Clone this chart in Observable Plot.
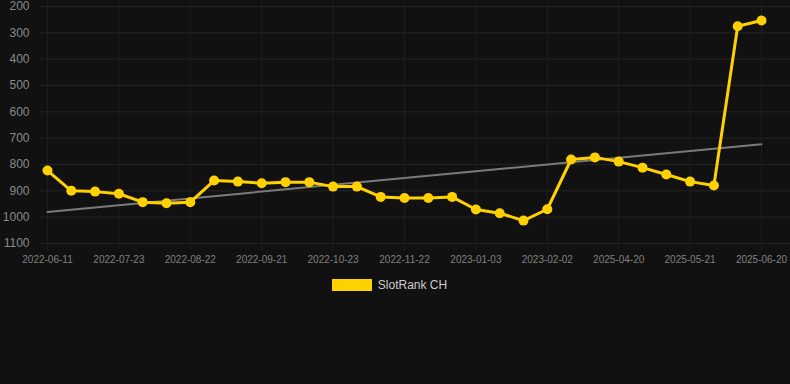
<!DOCTYPE html>
<html>
<head>
<meta charset="utf-8">
<script src="https://cdn.jsdelivr.net/npm/d3@7"></script>
<script src="https://cdn.jsdelivr.net/npm/@observablehq/plot@0.6"></script>
<style>
  html, body { margin: 0; padding: 0; background: #111111; }
  body { width: 790px; height: 384px; overflow: hidden; font-family: "Liberation Sans", Arial, sans-serif; }
  #legend { display: flex; justify-content: center; align-items: center; margin-top: 8px; padding-right: 11px; color: #cccccc; font-size: 12px; }
  #legend .sw { width: 40px; height: 12px; background: #FFD100; margin-right: 6px; }
</style>
</head>
<body>
<div id="chart"></div>
<div id="legend"><span class="sw"></span><span>SlotRank CH</span></div>
<script>
const dates = [
  "2022-06-11","2022-06-25","2022-07-09","2022-07-23","2022-08-02","2022-08-12","2022-08-22",
  "2022-09-01","2022-09-11","2022-09-21","2022-10-01","2022-10-12","2022-10-23","2022-11-02",
  "2022-11-12","2022-11-22","2022-12-06","2022-12-20","2023-01-03","2023-01-13","2023-01-23",
  "2023-02-02","2025-03-31","2025-04-10","2025-04-20","2025-04-30","2025-05-11","2025-05-21",
  "2025-05-31","2025-06-10","2025-06-20"
];
const ranks = [
  823, 900, 903, 911, 943, 947, 943, 861, 865, 871, 867, 867, 884, 884, 923, 927,
  927, 923, 971, 985, 1013, 970, 781, 773, 789, 812, 838, 865, 880, 275, 253
];
const tickLabels = [
  "2022-06-11","2022-07-23","2022-08-22","2022-09-21","2022-10-23","2022-11-22",
  "2023-01-03","2023-02-02","2025-04-20","2025-05-21","2025-06-20"
];
const yTicks = [200, 300, 400, 500, 600, 700, 800, 900, 1000, 1100];
const trendDates = ["2022-06-11", "2025-06-20"];
const trendValues = [980, 723];

const idx = d => dates.indexOf(d);
const data = dates.map((d, i) => ({i: idx(d), rank: ranks[i]}));
const trend = trendDates.map((d, i) => ({i: idx(d), rank: trendValues[i]}));
const tickIdx = tickLabels.map(idx);

const chart = Plot.plot({
  width: 790,
  height: 270,
  marginLeft: 40,
  marginRight: 0,
  marginTop: 0,
  marginBottom: 20,
  style: { background: "transparent", fontFamily: "'Liberation Sans', Arial, sans-serif" },
  x: { type: "linear", domain: [0, dates.length - 1], range: [47, 761], label: null },
  y: { domain: [200, 1100], range: [6, 243], label: null },
  marks: [
    Plot.ruleY(yTicks, { stroke: "#242424", strokeWidth: 1 }),
    Plot.ruleX(tickIdx, { stroke: "#1e1e1e", strokeWidth: 1 }),
    Plot.axisY({ ticks: yTicks, tickSize: 0, tickPadding: 11, fontSize: 12, fill: "#8a8a8a", label: null, tickFormat: d => String(d) }),
    Plot.axisX({ ticks: tickIdx, tickSize: 0, tickPadding: 5, fontSize: 10, fill: "#808080", label: null, tickFormat: i => dates[i] }),
    Plot.line(trend, { x: "i", y: "rank", stroke: "#7a7a7a", strokeWidth: 2 }),
    Plot.line(data, { x: "i", y: "rank", stroke: "#FFD100", strokeWidth: 3 }),
    Plot.dot(data, { x: "i", y: "rank", r: 5, fill: "#FFD100", stroke: "none" })
  ]
});
document.getElementById("chart").appendChild(chart);
</script>
</body>
</html>
